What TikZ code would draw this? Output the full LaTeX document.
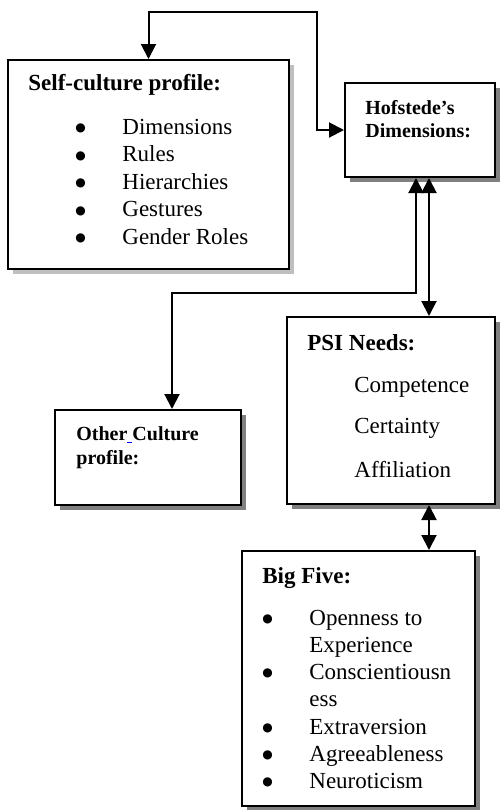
\documentclass[tikz,border=0pt]{standalone}
\usepackage{fontspec}
\setmainfont{Liberation Serif}
\newfontfamily\symfont{DejaVu Sans}
\usetikzlibrary{arrows.meta,shadows}
\tikzset{
  box/.style={draw, line width=1pt, fill=white, inner sep=0pt},
  darkshadow/.style={drop shadow={shadow xshift=2.5pt, shadow yshift=-2.5pt, fill=black!50, opacity=1}},
  lightshadow/.style={drop shadow={shadow xshift=2.5pt, shadow yshift=-2.5pt, fill=black!25, opacity=1}},
  txt/.style={anchor=base west, inner sep=0pt, font=\fontsize{11.5}{13}\selectfont},
  dot/.style={txt, font=\fontsize{6}{7}\symfont, yshift=1.25pt},
  head/.style={txt, font=\fontsize{11.5}{13}\selectfont\bfseries},
  smallhead/.style={txt, font=\fontsize{10}{12}\selectfont\bfseries},
  link/.style={line width=1pt, <->, >={Triangle[length=7.5pt,width=7.5pt]}}
}
\begin{document}
\begin{tikzpicture}[x=0.5pt, y=-0.5pt]
	\useasboundingbox (0,0) rectangle (499,810);
	% boxes
	\node[box, lightshadow, minimum width=140.5pt, minimum height=104.5pt] (self) at (148.5,164.5) {};
	\node[box, darkshadow, minimum width=75pt, minimum height=47pt] (hof) at (420,130) {};
	\node[box, darkshadow, minimum width=93pt, minimum height=47.5pt] (other) at (148,457.5) {};
	\node[box, darkshadow, minimum width=104pt, minimum height=93.5pt] (psi) at (391,410.5) {};
	\node[box, darkshadow, minimum width=116.5pt, minimum height=127.5pt] (big) at (358.5,678.5) {};
	% self-culture profile
	\node[head] (selfh) at (28,90) {Self-culture profile:};
	\node[dot] (sb1) at (75,134) {●};
	\node[dot] (sb2) at (75,161.5) {●};
	\node[dot] (sb3) at (75,189) {●};
	\node[dot] (sb4) at (75,216.5) {●};
	\node[dot] (sb5) at (75,244) {●};
	\node[txt] (s1) at (122,134) {Dimensions};
	\node[txt] (s2) at (122,161.5) {Rules};
	\node[txt] (s3) at (122,189) {Hierarchies};
	\node[txt] (s4) at (122,216.5) {Gestures};
	\node[txt] (s5) at (122,244) {Gender Roles};
	% hofstede
	\node[smallhead] (hofh1) at (365,114) {Hofstede’s};
	\node[smallhead] (hofh2) at (365,137) {Dimensions:};
	% other culture
	\node[smallhead] (oth1) at (76,440) {Other\textcolor{blue}{\underline{\ }}Culture};
	\node[smallhead] (oth2) at (76,464) {profile:};
	% psi needs
	\node[head] (psih) at (307,350) {PSI Needs:};
	\node[txt] (p1) at (354,392) {Competence};
	\node[txt] (p2) at (354,433) {Certainty};
	\node[txt] (p3) at (354,477) {Affiliation};
	% big five
	\node[head] (bigh) at (262,583) {Big Five:};
	\node[dot] (bb1) at (262,625) {●};
	\node[dot] (bb2) at (262,679) {●};
	\node[dot] (bb3) at (262,734) {●};
	\node[dot] (bb4) at (262,761) {●};
	\node[dot] (bb5) at (262,788) {●};
	\node[txt] (b1) at (309,625) {Openness to};
	\node[txt] (b1b) at (309,652) {Experience};
	\node[txt] (b2) at (309,679) {Conscientiousn};
	\node[txt] (b2b) at (309,706) {ess};
	\node[txt] (b3) at (309,734) {Extraversion};
	\node[txt] (b4) at (309,761) {Agreeableness};
	\node[txt] (b5) at (309,788) {Neuroticism};
	% connectors
	\coordinate (topbend) at (317,12);
	\coordinate (lowbend) at (172,293);
	\coordinate (hofL) at ([xshift=-2pt]hof.south);
	\coordinate (hofR) at ([xshift=4.5pt]hof.south);
	\draw[link] (self.north) |- (topbend) |- (hof.west);
	\draw[link] (hofL) |- (lowbend) -- (lowbend |- other.north);
	\draw[link] (hofR) -- (hofR |- psi.north);
	\draw[link] (hofR |- psi.south) -- (hofR |- big.north);
\end{tikzpicture}
\end{document}
